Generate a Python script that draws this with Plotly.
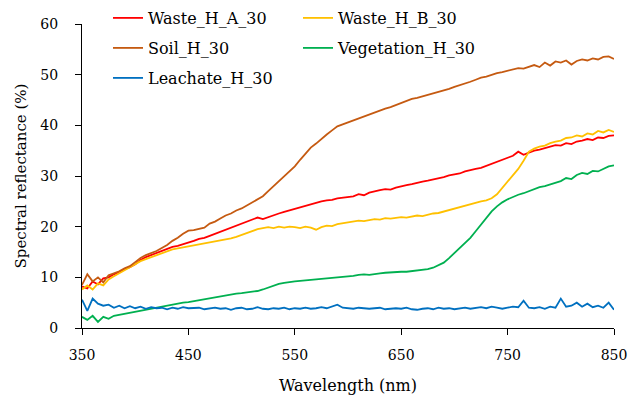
import plotly.graph_objects as go

wavelength = list(range(350, 851, 5))

waste_a = [8.2, 7.8, 9.2, 8.6, 9.8, 10.0, 10.6, 11.0, 11.6, 12.0, 12.6, 13.4, 14.0, 14.4, 14.8, 15.2, 15.6, 16.0, 16.2, 16.5,
           16.8, 17.2, 17.6, 17.8, 18.2, 18.6, 19.0, 19.4, 19.8, 20.2, 20.6, 20.9, 21.3, 21.8, 21.5, 21.9, 22.3, 22.6, 22.9, 23.2,
           23.5, 23.8, 24.2, 24.5, 24.7, 25.0, 25.2, 25.3, 25.6, 25.7, 25.9, 26.0, 26.4, 26.2, 26.7, 27.0, 27.2, 27.4, 27.3, 27.7,
           28.0, 28.2, 28.4, 28.7, 28.9, 29.1, 29.3, 29.5, 29.8, 30.1, 30.3, 30.5, 30.9, 31.2, 31.4, 31.6, 32.0, 32.4, 32.8, 33.2,
           33.6, 34.0, 34.8, 34.2, 34.6, 35.0, 35.2, 35.5, 35.8, 36.1, 36.0, 36.5, 36.3, 36.8, 37.0, 37.3, 37.1, 37.6, 37.5, 37.9,
           38.0]
waste_b = [7.6, 8.4, 7.6, 8.8, 8.4, 9.6, 10.2, 10.8, 11.4, 12.0, 12.6, 13.2, 13.6, 14.0, 14.4, 14.8, 15.2, 15.5, 15.7, 15.9,
           16.0, 16.3, 16.5, 16.7, 16.9, 17.1, 17.3, 17.5, 17.7, 18.0, 18.4, 18.8, 19.2, 19.5, 19.7, 19.9, 19.7, 20.0, 19.8, 20.0,
           19.9, 19.7, 20.0, 19.8, 19.4, 19.9, 20.2, 20.1, 20.5, 20.7, 20.9, 21.0, 21.2, 21.1, 21.3, 21.5, 21.4, 21.7, 21.6, 21.8,
           21.9, 21.8, 22.0, 22.2, 22.1, 22.4, 22.6, 22.7, 23.0, 23.2, 23.5, 23.8, 24.1, 24.4, 24.7, 25.0, 25.2, 25.6, 26.4, 27.6,
           28.8, 30.0, 31.4, 33.0, 34.8, 35.4, 35.8, 36.0, 36.5, 36.8, 37.0, 37.5, 37.6, 38.0, 37.8, 38.4, 38.2, 38.9, 38.6, 39.1,
           38.7]
soil = [8.5, 10.6, 9.2, 10.0, 9.0, 10.4, 10.8, 11.2, 11.8, 12.2, 13.0, 13.8, 14.4, 14.8, 15.2, 15.8, 16.4, 17.2, 17.8, 18.6,
        19.2, 19.3, 19.6, 19.8, 20.6, 21.0, 21.6, 22.2, 22.6, 23.2, 23.6, 24.2, 24.8, 25.4, 26.0, 27.0, 28.0, 29.0, 30.0, 31.0,
        31.9, 33.2, 34.4, 35.6, 36.4, 37.4, 38.2, 39.0, 39.8, 40.2, 40.6, 41.0, 41.3, 41.8, 42.2, 42.5, 42.9, 43.3, 43.6, 44.0,
        44.3, 44.7, 45.2, 45.4, 45.7, 46.0, 46.3, 46.6, 46.8, 47.2, 47.6, 47.9, 48.3, 48.6, 49.0, 49.4, 49.6, 50.0, 50.3, 50.5,
        50.8, 51.0, 51.3, 51.2, 51.6, 51.9, 51.5, 52.4, 51.8, 52.6, 52.4, 52.8, 52.0, 52.7, 53.0, 52.8, 53.2, 53.0, 53.5, 53.6,
        53.1]
vegetation = [2.2, 1.6, 2.4, 1.2, 2.2, 1.8, 2.4, 2.6, 2.8, 3.0, 3.2, 3.5, 3.7, 3.9, 4.1, 4.3, 4.5, 4.6, 4.8, 5.0,
              5.1, 5.3, 5.5, 5.7, 5.9, 6.1, 6.3, 6.5, 6.6, 6.8, 6.9, 7.0, 7.1, 7.3, 7.6, 8.0, 8.4, 8.7, 8.9, 9.1,
              9.2, 9.3, 9.4, 9.5, 9.6, 9.6, 9.7, 9.8, 9.9, 10.0, 10.1, 10.3, 10.5, 10.6, 10.5, 10.7, 10.8, 10.9, 11.0, 11.0,
              11.1, 11.1, 11.2, 11.3, 11.4, 11.6, 11.9, 12.4, 12.9, 13.8, 14.8, 15.8, 16.8, 17.8, 19.1, 20.4, 21.8, 23.0, 24.0, 24.8,
              25.4, 25.9, 26.3, 26.6, 27.0, 27.3, 27.8, 28.0, 28.3, 28.7, 29.0, 29.6, 29.4, 30.2, 30.6, 30.4, 31.0, 30.9, 31.4, 31.9,
              32.1]
leachate = [5.6, 3.4, 5.8, 4.8, 4.4, 4.6, 4.0, 4.4, 3.9, 4.3, 3.9, 4.2, 3.8, 4.1, 3.9, 4.0, 3.7, 4.0, 3.8, 4.1,
            3.9, 3.9, 4.0, 3.7, 3.9, 4.0, 3.8, 3.9, 3.6, 3.9, 4.0, 3.7, 3.8, 4.1, 3.8, 3.7, 3.9, 3.8, 4.0, 3.7,
            3.9, 3.8, 4.0, 3.8, 3.9, 4.1, 3.9, 4.2, 4.6, 4.0, 3.9, 3.8, 4.0, 3.9, 3.8, 3.9, 4.0, 3.7, 3.8, 3.9,
            3.8, 4.0, 3.7, 3.6, 3.8, 3.9, 3.7, 4.0, 3.8, 3.9, 3.7, 3.8, 4.0, 3.8, 4.0, 4.1, 3.9, 4.2, 4.0, 3.8,
            4.0, 4.2, 4.1, 5.4, 4.0, 3.9, 4.1, 3.8, 4.2, 4.0, 5.8, 4.2, 4.4, 5.0, 4.2, 4.8, 4.1, 4.4, 4.0, 5.0,
            3.6]

series_names = ["Waste_H_A_30", "Waste_H_B_30", "Soil_H_30", "Vegetation_H_30", "Leachate_H_30"]
series_values = [waste_a, waste_b, soil, vegetation, leachate]
series_colors = ["#FF0000", "#FFC000", "#C55A11", "#00B050", "#0070C0"]

x_ticks = [350, 450, 550, 650, 750, 850]
y_ticks = [0, 10, 20, 30, 40, 50, 60]

FONT = "DejaVu Serif"

fig = go.Figure()
legend_ids = ["legend", "legend2", "legend3", "legend4", "legend5"]
for name, vals, col, lg in zip(series_names, series_values, series_colors, legend_ids):
    fig.add_trace(go.Scatter(x=wavelength, y=vals, mode="lines", name=name,
                             line=dict(color=col, width=1.8), legend=lg))

# legend placement (paper coords), 2 columns x 3 rows
L, W, T, H = 82, 532, 24, 304
def px_to_paper_x(px):
    return (px - L) / W
def px_to_paper_y(py):
    return (T + H - py) / H

pos = [(108, 18), (298, 18), (108, 48), (298, 48), (108, 78)]
legend_layout = {}
for lg, (px, py) in zip(legend_ids, pos):
    legend_layout[lg] = dict(x=px_to_paper_x(px), y=px_to_paper_y(py), xanchor="left", yanchor="middle",
                             bgcolor="rgba(0,0,0,0)", borderwidth=0,
                             font=dict(family=FONT, size=16, color="#000000"))

fig.update_layout(
    width=628, height=403,
    margin=dict(l=L, r=628 - L - W, t=T, b=403 - T - H, autoexpand=False),
    paper_bgcolor="white", plot_bgcolor="white",
    showlegend=True,
    font=dict(family=FONT, color="#000000"),
    **legend_layout,
)
fig.update_xaxes(range=[350, 850], tickvals=x_ticks, ticktext=[str(v) for v in x_ticks],
                 ticks="outside", ticklen=6, tickwidth=1, tickcolor="#000000",
                 showline=True, linecolor="#000000", linewidth=1, showgrid=False, zeroline=False,
                 tickfont=dict(family=FONT, size=14, color="#000000"), ticklabelstandoff=8,
                 title=dict(text="Wavelength (nm)", font=dict(family=FONT, size=16, color="#000000"), standoff=18))
fig.update_yaxes(range=[0, 60], tickvals=y_ticks, ticktext=[str(v) for v in y_ticks],
                 ticks="outside", ticklen=6, tickwidth=1, tickcolor="#000000",
                 showline=True, linecolor="#000000", linewidth=1, showgrid=False, zeroline=False,
                 tickfont=dict(family=FONT, size=14, color="#000000"), ticklabelstandoff=14,
                 title=dict(text="Spectral reflectance (%)", font=dict(family=FONT, size=15, color="#000000"), standoff=10))

fig.write_html("out.html")
